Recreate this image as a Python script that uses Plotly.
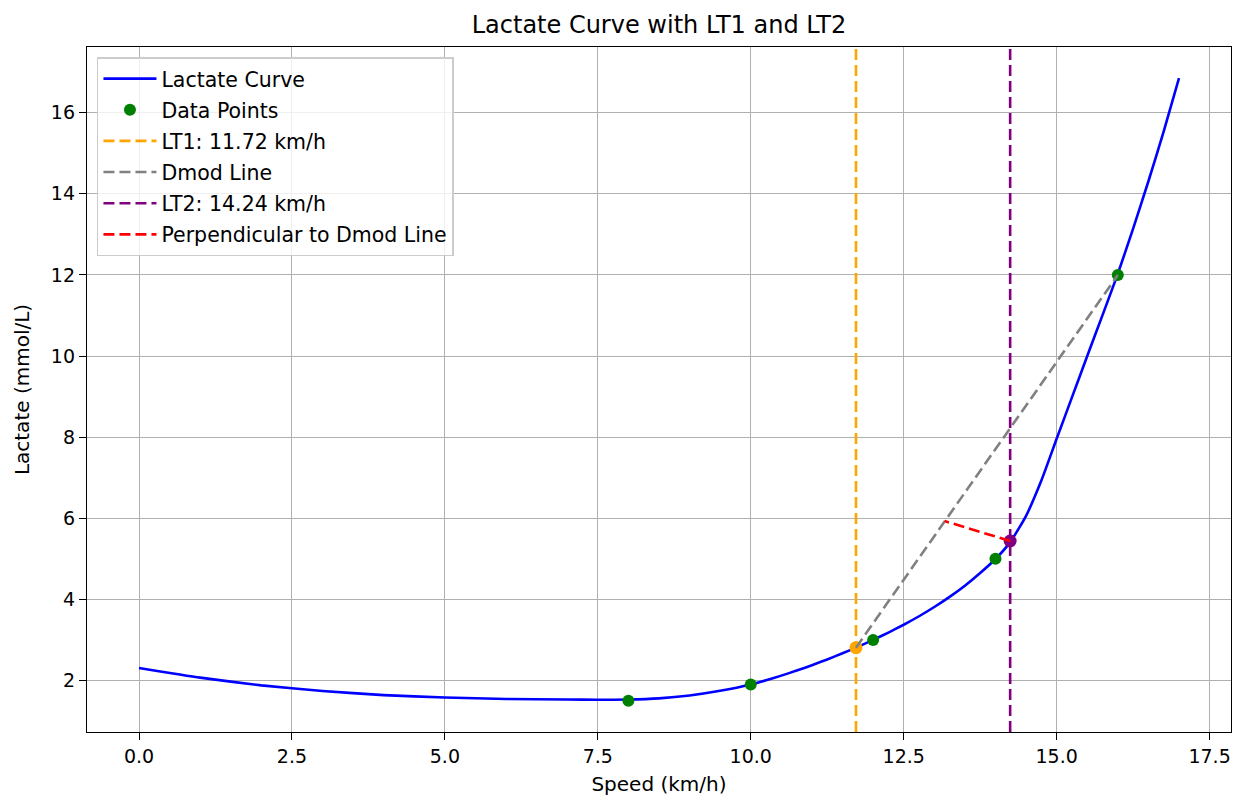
import plotly.graph_objects as go

# ---- data ----
curve_speed = [0, 1, 2, 3, 4, 5, 6, 7, 7.5, 8, 8.5, 9, 9.5, 10,
               10.25, 10.5, 10.75, 11, 11.25, 11.5, 11.75, 12, 12.25, 12.5, 12.75, 13,
               13.25, 13.5, 13.75, 14, 14.25, 14.5, 14.75, 15, 15.25, 15.5, 15.75, 16,
               16.25, 16.5, 16.75, 17]
curve_lactate = [2.31, 2.07, 1.88, 1.74, 1.64, 1.58, 1.545, 1.53, 1.525, 1.53, 1.56, 1.63, 1.745, 1.90,
                 2.005, 2.12, 2.244, 2.377, 2.519, 2.670, 2.830, 3.00, 3.181, 3.375, 3.584, 3.812,
                 4.062, 4.337, 4.650, 4.995, 5.43, 6.06, 6.93, 7.96, 8.98, 10.0, 11.01, 12.03,
                 13.14, 14.31, 15.54, 16.85]

data_speed = [8, 10, 12, 14, 16]
data_lactate = [1.5, 1.9, 3.0, 5.0, 12.0]

lt1_speed = 11.72
lt1_lactate = 2.81
lt2_speed = 14.24
lt2_lactate = 5.44

dmod_speed = [11.72, 16.0]
dmod_lactate = [2.81, 12.0]

perp_speed = [14.24, 13.17]
perp_lactate = [5.44, 5.93]

x_range = [-0.85, 17.85]
y_range = [0.73, 17.62]
x_ticks = [0, 2.5, 5, 7.5, 10, 12.5, 15, 17.5]
y_ticks = [2, 4, 6, 8, 10, 12, 14, 16]

FONT = "DejaVu Sans"
DASH = "11px,5px"
LW = 2.6

fig = go.Figure()

fig.add_trace(go.Scatter(x=curve_speed, y=curve_lactate, mode="lines", name="Lactate Curve",
                         line=dict(color="blue", width=LW, shape="spline", smoothing=0.5),
                         legendgroup="a"))
fig.add_trace(go.Scatter(x=data_speed, y=data_lactate, mode="markers", name="Data Points",
                         marker=dict(color="green", size=12), legendgroup="b"))
fig.add_trace(go.Scatter(x=[lt1_speed, lt1_speed], y=y_range, mode="lines",
                         name=f"LT1: {lt1_speed:.2f} km/h",
                         line=dict(color="orange", width=LW, dash=DASH), legendgroup="c"))
fig.add_trace(go.Scatter(x=[lt1_speed], y=[lt1_lactate], mode="markers", showlegend=False,
                         marker=dict(color="orange", size=13)))
fig.add_trace(go.Scatter(x=dmod_speed, y=dmod_lactate, mode="lines", name="Dmod Line",
                         line=dict(color="gray", width=LW, dash=DASH), legendgroup="d"))
fig.add_trace(go.Scatter(x=[lt2_speed, lt2_speed], y=y_range, mode="lines",
                         name=f"LT2: {lt2_speed:.2f} km/h",
                         line=dict(color="purple", width=LW, dash=DASH), legendgroup="e"))
fig.add_trace(go.Scatter(x=[lt2_speed], y=[lt2_lactate], mode="markers", showlegend=False,
                         marker=dict(color="purple", size=13)))
fig.add_trace(go.Scatter(x=perp_speed, y=perp_lactate, mode="lines",
                         name="Perpendicular to Dmod Line",
                         line=dict(color="red", width=LW, dash=DASH), legendgroup="f"))

axis_common = dict(showline=True, mirror=True, linecolor="black", linewidth=1.3,
                   ticks="outside", ticklen=7, tickwidth=1.3, tickcolor="black",
                   showgrid=True, gridcolor="#b0b0b0", gridwidth=1.4, zeroline=False,
                   tickfont=dict(family=FONT, size=19, color="black"))

fig.update_layout(
    width=1244, height=798,
    margin=dict(l=79, r=21, t=39, b=74),
    paper_bgcolor="white", plot_bgcolor="white",
    font=dict(family=FONT, size=20, color="black"),
    title=dict(text="Lactate Curve with LT1 and LT2", xref="paper", x=0.5, xanchor="center",
               yref="container", y=0.979, yanchor="middle",
               font=dict(family=FONT, size=24, color="black")),
    xaxis=dict(range=x_range, tickvals=x_ticks, tickformat=".1f",
               title=dict(text="Speed (km/h)", font=dict(family=FONT, size=20), standoff=11),
               **axis_common),
    yaxis=dict(range=y_range, tickvals=y_ticks,
               title=dict(text="Lactate (mmol/L)", font=dict(family=FONT, size=20), standoff=15),
               **axis_common),
    legend=dict(x=0.0087, y=0.985, xanchor="left", yanchor="top",
                bgcolor="rgba(255,255,255,0.8)", bordercolor="#cccccc", borderwidth=1.5,
                font=dict(family=FONT, size=20.5, color="black"),
                traceorder="grouped", tracegroupgap=1.5, itemwidth=53),
    showlegend=True,
)

fig.write_html("out.html")
